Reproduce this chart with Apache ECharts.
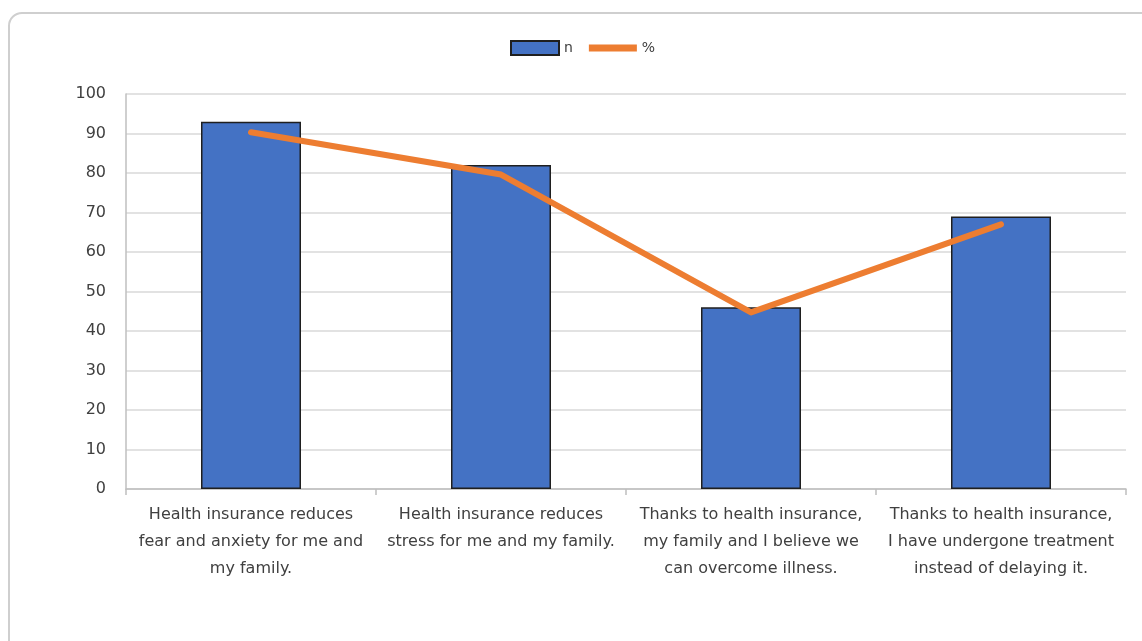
<!DOCTYPE html>
<html lang="en">
<head>
  <meta charset="UTF-8">
  <script src="https://cdn.jsdelivr.net/npm/echarts@6/dist/echarts.min.js"></script>
  <title>Health insurance</title>
  <style>
    body { margin: 0; background: #fff; }
    #frame { position: absolute; left: 8px; top: 12px; width: 1160px; height: 650px;
             border: 2px solid #cfcfcf; border-radius: 14px; box-sizing: border-box; }
    #chart { position: absolute; left: 0; top: 0; width: 1142px; height: 641px; }
  </style>
</head>
<body>
  <div id="frame"></div>
  <div id="chart"></div>

  <script>
    // categories (x axis labels, line breaks as in the picture)
    var categories = [
      'Health insurance reduces\nfear and anxiety for me and\nmy family.',
      'Health insurance reduces\nstress for me and my family.',
      'Thanks to health insurance,\nmy family and I believe we\ncan overcome illness.',
      'Thanks to health insurance,\nI have undergone treatment\ninstead of delaying it.'
    ];
    // series values
    var nValues = [93, 82, 46, 69];
    var pctValues = [90.3, 79.6, 44.7, 67.0];
    // y axis ticks
    var yMin = 0, yMax = 100, yStep = 10;

    var myChart = echarts.init(document.getElementById('chart'));

    var font = 'DejaVu Sans, Verdana, sans-serif';

    var option = {
      animation: false,
      textStyle: { fontFamily: font },
      legend: {
        top: 35,
        left: 505,
        itemGap: 16,
        itemWidth: 48,
        itemHeight: 14,
        textStyle: { fontSize: 14, color: '#404040', fontFamily: font },
        data: [
          { name: 'n', icon: 'rect' },
          { name: '%', icon: 'path://M0,4 L20,4 L20,7 L0,7 Z' }
        ]
      },
      grid: { left: 126, right: 16, top: 94, bottom: 152, containLabel: false },
      xAxis: {
        type: 'category',
        data: categories,
        axisLine: { lineStyle: { color: '#bfbfbf', width: 1.5 } },
        axisTick: { show: true, alignWithLabel: false, length: 6, lineStyle: { color: '#bfbfbf', width: 1.5 } },
        axisLabel: {
          interval: 0,
          margin: 12,
          fontSize: 16,
          lineHeight: 27,
          color: '#404040',
          fontFamily: font
        }
      },
      yAxis: {
        type: 'value',
        min: yMin,
        max: yMax,
        interval: yStep,
        axisLine: { show: true, lineStyle: { color: '#bfbfbf', width: 1.5 } },
        axisTick: { show: false },
        splitLine: { lineStyle: { color: '#d9d9d9', width: 1.5 } },
        axisLabel: { fontSize: 16, color: '#404040', margin: 20, fontFamily: font }
      },
      series: [
        {
          name: 'n',
          type: 'bar',
          data: nValues,
          barWidth: '40%',
          itemStyle: { color: '#4472C4', borderColor: '#1f1f1f', borderWidth: 1.5 }
        },
        {
          name: '%',
          type: 'line',
          data: pctValues,
          symbol: 'none',
          lineStyle: { color: '#ED7D31', width: 6, cap: 'round', join: 'round' },
          itemStyle: { color: '#ED7D31' }
        }
      ]
    };

    myChart.setOption(option);
  </script>
</body>
</html>
